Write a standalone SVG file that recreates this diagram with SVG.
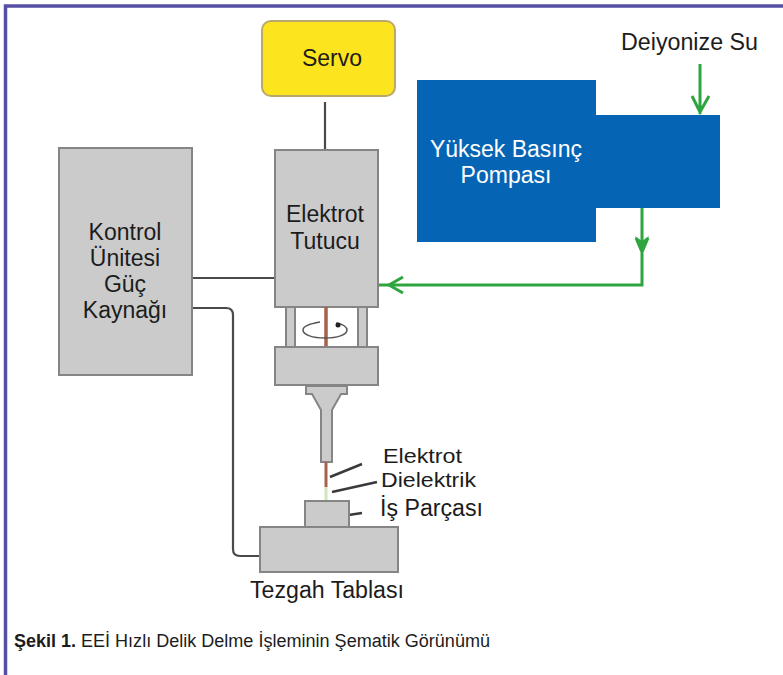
<svg xmlns="http://www.w3.org/2000/svg" width="783" height="675" viewBox="0 0 783 675">
<style>
text{font-family:"Liberation Sans",Arial,sans-serif;fill:#1c1c1c;font-size:23px}
.m{text-anchor:middle}
.g{fill:#cbcbcb;stroke:#858585;stroke-width:2}
.w{fill:none;stroke:#4a4a4a;stroke-width:2.2}
.s{fill:none;stroke:#3a3a3a;stroke-width:2.500}
.f{fill:none;stroke:#2fa53f;stroke-width:3}
.b{fill:#0565b4}
</style>
<rect width="783" height="675" fill="#fff"/>
<path d="M783 6H5.500V675" fill="none" stroke="#5650a4" stroke-width="3.500"/>
<g id="connectors">
<path class="w" d="M325 102V150"/>
<path class="w" d="M192 278H275"/>
<path class="w" d="M192 308H226Q233 308 233 315V549Q233 556 240 556H260"/>
<path class="f" d="M700 64V114M692 96L700 112L709 96"/>
<path class="f" d="M642 208V285H378M636 238L642 252L648 238"/>
<path d="M635 236L642 254L649 236L642 241Z" fill="#2fa53f"/>
<path class="f" d="M403 277L389 285L403 293"/>
<path class="s" d="M330 477L362 464M332 492L377 482M335 517L362 513"/>
</g>
<g id="servo"><rect x="262" y="21" width="133" height="75" rx="9" fill="#fce51f" stroke="#b9a86a" stroke-width="2"/><text class="m" x="332" y="66">Servo</text></g>
<g id="kontrol"><rect class="g" x="59" y="148" width="133" height="227"/><text class="m" x="125" y="240">Kontrol</text><text class="m" x="125" y="266">Ünitesi</text><text class="m" x="125" y="292">Güç</text><text class="m" x="125" y="318">Kaynağı</text></g>
<g id="elektrot-tutucu"><rect class="g" x="275" y="150" width="103" height="157"/><text class="m" x="325" y="222">Elektrot</text><text class="m" x="325" y="249">Tutucu</text>
<rect class="g" x="286" y="307" width="9" height="42" stroke-width="1.500"/><rect class="g" x="358" y="307" width="9" height="42" stroke-width="1.500"/>
<path d="M326 307V347" stroke="#a9604c" stroke-width="3.500" fill="none"/><path d="M320 322C308 324 303 327 303 330C303 335 313 338 325 338C337 338 347 335 347 330C347 327 343 324 336 323" fill="none" stroke="#555" stroke-width="1.500"/><circle cx="338" cy="325" r="2.500" fill="#222"/>
<rect class="g" x="275" y="347" width="103" height="38"/></g>
<g id="elektrot"><path class="g" d="M306 386H347V394H341L332 410V462H321V410L312 394H306Z" stroke-width="1.500"/><path d="M326 462V487" stroke="#a9604c" stroke-width="3"/><path d="M326 487V501" stroke="#cfe6b8" stroke-width="3"/></g>
<g id="is-parcasi"><rect class="g" x="305" y="501" width="44" height="27"/></g>
<g id="tezgah"><rect class="g" x="260" y="527" width="138" height="45"/></g>
<g id="pompa"><rect class="b" x="417" y="80" width="179" height="162"/><rect class="b" x="596" y="115" width="124" height="93"/><text class="m" x="506" y="157" style="fill:#fff">Yüksek Basınç</text><text class="m" x="506" y="183" style="fill:#fff">Pompası</text></g>
<g id="labels">
<text x="621" y="50" textLength="137" lengthAdjust="spacingAndGlyphs">Deiyonize Su</text>
<text x="383" y="463" style="font-size:21px" textLength="79" lengthAdjust="spacingAndGlyphs">Elektrot</text>
<text x="381" y="487" style="font-size:21px" textLength="95" lengthAdjust="spacingAndGlyphs">Dielektrik</text>
<text x="380" y="516" textLength="103" lengthAdjust="spacingAndGlyphs">İş Parçası</text>
<text x="250" y="598" textLength="154" lengthAdjust="spacingAndGlyphs">Tezgah Tablası</text>
<text x="14" y="647" style="font-size:18px;font-weight:bold" textLength="62" lengthAdjust="spacingAndGlyphs">Şekil 1.</text>
<text x="81" y="647" style="font-size:18px" textLength="409" lengthAdjust="spacingAndGlyphs">EEİ Hızlı Delik Delme İşleminin Şematik Görünümü</text>
</g>
</svg>
